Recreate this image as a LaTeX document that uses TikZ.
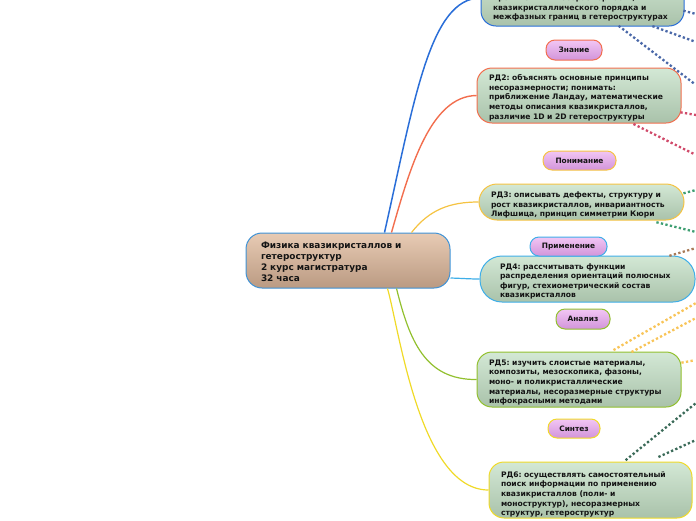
\documentclass[tikz,border=0pt]{standalone}
\usepackage{fontspec}
\setmainfont{DejaVu Sans}
\usetikzlibrary{calc}
\frenchspacing
\newcommand\topgap[1]{\rule{0pt}{#1pt}}
\definecolor{rdtop}{HTML}{D3E8D5}
\definecolor{rdbot}{HTML}{A9C2AA}
\definecolor{lbltop}{HTML}{F2C6F4}
\definecolor{lblbot}{HTML}{D294DA}
\definecolor{ctop}{HTML}{E8CBB4}
\definecolor{cbot}{HTML}{BA9A82}
\definecolor{bcentral}{HTML}{3E92D6}
\definecolor{bblue}{HTML}{2A6ED8}
\definecolor{bred}{HTML}{F26E4E}
\definecolor{borange}{HTML}{F5C342}
\definecolor{blblue}{HTML}{3EAEE8}
\definecolor{bgreen}{HTML}{92C02E}
\definecolor{byellow}{HTML}{F0DA28}
\definecolor{txt}{HTML}{141414}
\definecolor{dblue}{HTML}{4A68A8}
\definecolor{dred}{HTML}{D04A6A}
\definecolor{dgreen}{HTML}{3E9E72}
\definecolor{dbrown}{HTML}{A87A58}
\definecolor{dorange}{HTML}{F8C458}
\definecolor{ddkgreen}{HTML}{3A6A58}
\tikzset{
  rdbox/.style={draw=#1, line width=1pt, rectangle, rounded corners=15pt,
    top color=rdtop, bottom color=rdbot, text=txt, align=left,
    inner xsep=12pt, inner ysep=0pt,
    font=\fontsize{7.6}{9.6}\selectfont\bfseries},
  lblbox/.style={draw=#1, line width=1pt, rectangle, rounded corners=9pt,
    top color=lbltop, bottom color=lblbot, text=txt, inner sep=0pt,
    font=\fontsize{7.4}{9}\selectfont\bfseries},
  branch/.style={draw=#1, line width=1.2pt},
  dots/.style={draw=#1, line width=2.3pt, line cap=rect, dash pattern=on 0.01pt off 4.6pt}
}
\begin{document}
\begin{tikzpicture}[x=1pt,y=-1pt]
\useasboundingbox (0,0) rectangle (696,520);
\clip (0,0) rectangle (696,520);

% central node
\node[draw=bcentral, line width=1pt, rectangle, rounded corners=16pt,
  top color=ctop, bottom color=cbot, text=txt, align=left,
  inner xsep=15pt, inner ysep=0pt, minimum width=204pt, minimum height=55pt,
  text width=174pt, font=\fontsize{8.95}{10.9}\selectfont\bfseries]
  (c) at (348,260.5) {\topgap{9}Физика квазикристаллов и\\гетероструктур\\2 курс магистратура\\32 часа};

% result nodes
\node[rdbox=bblue, minimum width=203pt, minimum height=56pt, text width=179pt]
  (rd1) at (582.5,-2) {\topgap{7}\\\mbox{}\\проявлений и несоразмерности,\\квазикристаллического порядка и\\межфазных границ в гетероструктурах};
\node[rdbox=bred, minimum width=204pt, minimum height=55pt, text width=180pt]
  (rd2) at (579,95.5) {\topgap{10.5}РД2: объяснять основные принципы\\несоразмерности; понимать:\\приближение Ландау, математические\\методы описания квазикристаллов,\\различие 1D и 2D гетероструктуры};
\node[rdbox=borange, rounded corners=18pt, minimum width=205pt, minimum height=36pt, text width=181pt]
  (rd3) at (581.5,202) {\topgap{12}РД3: описывать дефекты, структуру и\\рост квазикристаллов, инвариантность\\Лифшица, принцип симметрии Кюри};
\node[rdbox=blblue, rounded corners=22pt, inner xsep=20pt, minimum width=215pt, minimum height=46pt, text width=175pt]
  (rd4) at (587.5,279) {\topgap{10.5}РД4: рассчитывать функции\\распределения ориентаций полюсных\\фигур, стехиометрический состав\\квазикристаллов};
\node[rdbox=bgreen, minimum width=204pt, minimum height=55pt, text width=180pt]
  (rd5) at (579,379.5) {\topgap{11.5}РД5: изучить слоистые материалы,\\композиты, мезоскопика, фазоны,\\моно- и поликристаллические\\материалы, несоразмерные структуры\\инфокрасными методами};
\node[rdbox=byellow, minimum width=203pt, minimum height=56pt, text width=179pt]
  (rd6) at (590.5,490) {\topgap{14.5}РД6: осуществлять самостоятельный\\поиск информации по применению\\квазикристаллов (поли- и\\моноструктур), несоразмерных\\структур, гетероструктур};

% level labels
\node[lblbox=bred, minimum width=56pt, minimum height=20pt] (l1) at (574,50) {Знание};
\node[lblbox=borange, minimum width=73pt, minimum height=19pt] (l2) at (579.5,160.5) {Понимание};
\node[lblbox=blblue, minimum width=77pt, minimum height=19pt] (l3) at (568.5,246.5) {Применение};
\node[lblbox=bgreen, minimum width=54pt, minimum height=20pt] (l4) at (583,319) {Анализ};
\node[lblbox=byellow, minimum width=52pt, minimum height=19pt] (l5) at (574,428.5) {Синтез};

% branches
\draw[branch=bblue, line width=1.5pt] ($(c.north west)+(139,0)$) .. controls ($(c.north west)+(169,-133)$) and (430,-2) .. (rd1.west);
\draw[branch=bred, line width=1.4pt] ($(c.north west)+(146,0)$) .. controls ($(c.north west)+(164,-63)$) and (430,96) .. (rd2.west);
\draw[branch=borange] ($(c.north west)+(166,0)$) .. controls ($(c.north west)+(184,-23)$) and (450,202) .. (rd3.west);
\draw[branch=blblue] ($(c.east)+(0,17.5)$) .. controls ($(c.east)+(15,18)$) and ($(rd4.west)+(-10,0)$) .. (rd4.west);
\draw[branch=bgreen] ($(c.south west)+(151,0)$) .. controls ($(c.south west)+(164,52)$) and (425,380) .. (rd5.west);
\draw[branch=byellow] ($(c.south west)+(142,0)$) .. controls ($(c.south west)+(154,42)$) and (420,490) .. (rd6.west);

% dotted continuations
\coordinate (e1) at (696,14);  \coordinate (e2) at (696,42);  \coordinate (e3) at (696,85);
\coordinate (e4) at (696,115); \coordinate (e5) at (696,155);
\coordinate (e6) at (696,190); \coordinate (e7) at (696,232);
\coordinate (e8) at (696,248);
\coordinate (e9) at (696,303); \coordinate (e10) at (696,318); \coordinate (e11) at (696,360);
\coordinate (e12) at (696,403); \coordinate (e13) at (696,440);

\draw[dots=dblue] ($(rd1.east)+(0,13)$) -- (e1);
\draw[dots=dblue] ($(rd1.south east)+(-31,0)$) -- (e2);
\draw[dots=dblue] ($(rd1.south west)+(139,0)$) -- (e3);
\draw[dots=dred] ($(rd2.east)+(0,17)$) -- (e4);
\draw[dots=dred] ($(rd2.south west)+(158,1)$) -- (e5);
\draw[dots=dgreen] ($(rd3.east)+(0,-9)$) -- (e6);
\draw[dots=dgreen] ($(rd3.south west)+(179,2)$) -- (e7);
\draw[dots=dbrown] ($(rd4.north east)+(-25,0)$) -- (e8);
\draw[dots=dorange] ($(rd5.north west)+(138,-2)$) -- (e9);
\draw[dots=dorange] ($(rd5.north west)+(156,0)$) -- (e10);
\draw[dots=dorange] ($(rd5.east)+(1,-17)$) -- (e11);
\draw[dots=ddkgreen] ($(rd6.north west)+(138,-2)$) -- (e12);
\draw[dots=ddkgreen] ($(rd6.north west)+(171,-5)$) -- (e13);
\end{tikzpicture}
\end{document}
